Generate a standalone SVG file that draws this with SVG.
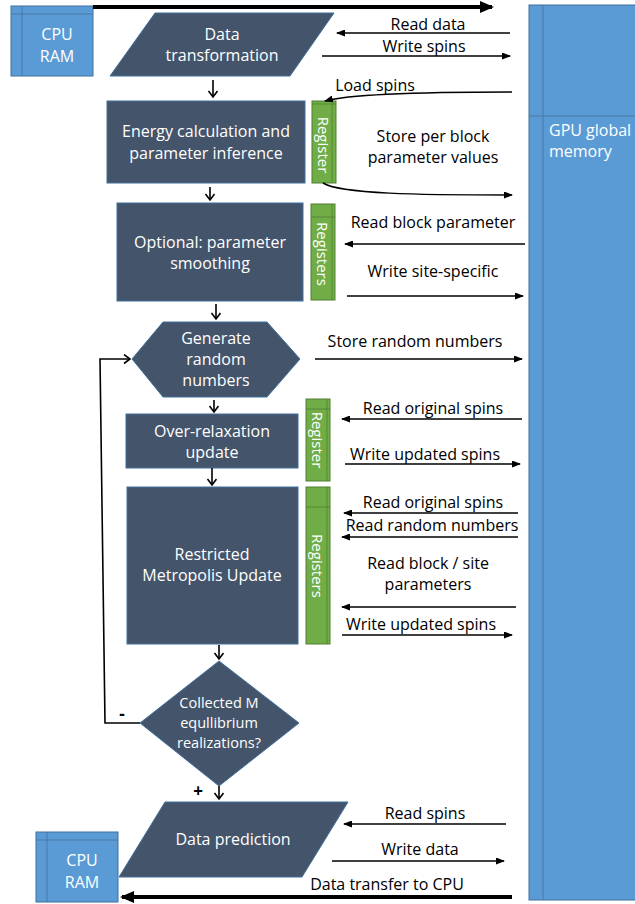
<svg xmlns="http://www.w3.org/2000/svg" width="635" height="904" viewBox="0 0 635 904">
<style>
.node{fill:#44546A;stroke:#41719C;stroke-width:1}
.mem{fill:#5B9BD5;stroke:#41719C;stroke-width:1}
.reg{fill:#70AD47;stroke:#507E32;stroke-width:1}
.div{stroke-width:0.8;fill:none}
.memdiv{stroke:#41719C}
.regdiv{stroke:#507E32}
.wt{fill:#FFFFFF;font-family:"Open Sans","Liberation Sans",Arial,sans-serif;font-size:16px;text-anchor:middle}
.dt{fill:#FFFFFF;font-family:"Open Sans","Liberation Sans",Arial,sans-serif;font-size:14.5px;text-anchor:middle}
.rt{fill:#FFFFFF;font-family:"Open Sans","Liberation Sans",Arial,sans-serif;font-size:15px;text-anchor:middle;dominant-baseline:central}
.bt{fill:#000000;font-family:"Open Sans","Liberation Sans",Arial,sans-serif;font-size:16px;text-anchor:middle}
.la{stroke:#000;stroke-width:1.5;fill:none;marker-end:url(#thin)}
.va{stroke:#000;stroke-width:1.6;fill:none;marker-end:url(#open)}
.ta{stroke:#000;stroke-width:4;fill:none;marker-end:url(#thick)}
</style>
<defs>
<marker id="thin" markerUnits="userSpaceOnUse" markerWidth="9" markerHeight="7" refX="8" refY="3.5" orient="auto"><path d="M0,0 L9,3.5 L0,7 z" fill="#000"/></marker>
<marker id="open" markerUnits="userSpaceOnUse" markerWidth="12" markerHeight="12" refX="7" refY="5" orient="auto"><path d="M1,0.5 L7,5 L1,9.5" fill="none" stroke="#000" stroke-width="1.6"/></marker>
<marker id="thick" markerUnits="userSpaceOnUse" markerWidth="14" markerHeight="12" refX="12" refY="6" orient="auto"><path d="M0,0 L14,6 L0,12 z" fill="#000"/></marker>
</defs>

<g id="gpu-memory">
<rect class="mem" x="529" y="5" width="110" height="895"/>
<line class="div memdiv" x1="543" y1="5" x2="543" y2="900"/>
<line class="div memdiv" x1="529" y1="116" x2="635" y2="116"/>
<text class="wt" x="549" y="136" style="text-anchor:start">GPU global</text>
<text class="wt" x="549" y="157" style="text-anchor:start">memory</text>
</g>

<g id="cpu-ram-top">
<rect class="mem" x="11" y="6" width="82" height="70"/>
<line class="div memdiv" x1="22" y1="6" x2="22" y2="76"/>
<line class="div memdiv" x1="11" y1="14" x2="93" y2="14"/>
<text class="wt" x="57" y="40">CPU</text>
<text class="wt" x="57" y="62">RAM</text>
</g>

<g id="data-transformation">
<polygon class="node" points="155,13 334,13 290,76 110,76"/>
<text class="wt" x="222" y="40">Data</text>
<text class="wt" x="222" y="61">transformation</text>
</g>

<g id="energy">
<rect class="node" x="107" y="101" width="198" height="82"/>
<text class="wt" x="206" y="137">Energy calculation and</text>
<text class="wt" x="206" y="159">parameter inference</text>
</g>
<g id="register-1">
<rect class="reg" x="312" y="101" width="24" height="82"/>
<line class="div regdiv" x1="332" y1="101" x2="332" y2="183"/>
<line class="div regdiv" x1="312" y1="104" x2="336" y2="104"/>
<text class="rt" transform="rotate(90 324 145)" x="324" y="145">Register</text>
</g>

<g id="smoothing">
<rect class="node" x="117" y="203" width="186" height="98"/>
<text class="wt" x="210" y="248">Optional: parameter</text>
<text class="wt" x="210" y="269">smoothing</text>
</g>
<g id="register-2">
<rect class="reg" x="311" y="204" width="24" height="96"/>
<line class="div regdiv" x1="332" y1="204" x2="332" y2="300"/>
<line class="div regdiv" x1="311" y1="217" x2="335" y2="217"/>
<text class="rt" transform="rotate(90 323 254)" x="323" y="254">Registers</text>
</g>

<g id="generate">
<polygon class="node" points="132,359 163,322 267,322 300,359 267,397 163,397"/>
<text class="wt" x="216" y="344">Generate</text>
<text class="wt" x="216" y="365">random</text>
<text class="wt" x="216" y="386">numbers</text>
</g>

<g id="over-relaxation">
<rect class="node" x="126" y="414" width="172" height="54"/>
<text class="wt" x="212" y="437">Over-relaxation</text>
<text class="wt" x="212" y="458">update</text>
</g>
<g id="register-3">
<rect class="reg" x="306" y="399" width="24" height="82"/>
<line class="div regdiv" x1="327" y1="399" x2="327" y2="481"/>
<line class="div regdiv" x1="306" y1="409" x2="330" y2="409"/>
<text class="rt" transform="rotate(90 318 440)" x="318" y="440">Register</text>
</g>

<g id="metropolis">
<rect class="node" x="127" y="487" width="171" height="157"/>
<text class="wt" x="212" y="560">Restricted</text>
<text class="wt" x="212" y="581">Metropolis Update</text>
</g>
<g id="register-4">
<rect class="reg" x="306" y="487" width="24" height="157"/>
<line class="div regdiv" x1="327" y1="487" x2="327" y2="644"/>
<line class="div regdiv" x1="306" y1="507" x2="330" y2="507"/>
<text class="rt" transform="rotate(90 318 566)" x="318" y="566">Registers</text>
</g>

<g id="decision">
<polygon class="node" points="219,661 299,723 219,786 140,723"/>
<text class="dt" x="219" y="708">Collected M</text>
<text class="dt" x="219" y="728">equllibrium</text>
<text class="dt" x="219" y="748">realizations?</text>
</g>

<g id="data-prediction">
<polygon class="node" points="165,802 348,802 302,877 119,877"/>
<text class="wt" x="233" y="845">Data prediction</text>
</g>

<g id="cpu-ram-bottom">
<rect class="mem" x="36" y="832" width="82" height="70"/>
<line class="div memdiv" x1="47" y1="832" x2="47" y2="902"/>
<line class="div memdiv" x1="36" y1="840" x2="118" y2="840"/>
<text class="wt" x="82" y="866">CPU</text>
<text class="wt" x="82" y="888">RAM</text>
</g>

<g id="connectors">
<line class="ta" x1="93" y1="7" x2="492" y2="7"/>
<line class="ta" x1="512" y1="897" x2="122" y2="897"/>
<line class="va" x1="213" y1="80" x2="213" y2="97"/>
<line class="va" x1="210" y1="187" x2="210" y2="200"/>
<line class="va" x1="216" y1="304" x2="216" y2="319"/>
<line class="va" x1="214" y1="400" x2="214" y2="412"/>
<line class="va" x1="212" y1="468" x2="212" y2="485"/>
<line class="va" x1="219" y1="645" x2="219" y2="659"/>
<line class="va" x1="219" y1="786" x2="219" y2="799"/>
<polyline class="va" points="140,723 105,723 100,359 130,359"/>

<line class="la" x1="510" y1="33" x2="337" y2="33"/>
<line class="la" x1="322" y1="56" x2="510" y2="56"/>
<path class="la" d="M512,92 C420,92 350,94 325,101"/>
<path class="la" d="M323,183 C340,194 420,195 512,195"/>
<line class="la" x1="525" y1="244" x2="345" y2="244"/>
<line class="la" x1="347" y1="296" x2="523" y2="296"/>
<line class="la" x1="315" y1="359" x2="522" y2="359"/>
<line class="la" x1="522" y1="419" x2="342" y2="419"/>
<line class="la" x1="345" y1="464" x2="520" y2="464"/>
<line class="la" x1="518" y1="513" x2="344" y2="513"/>
<line class="la" x1="518" y1="537" x2="342" y2="537"/>
<line class="la" x1="516" y1="607" x2="342" y2="607"/>
<line class="la" x1="342" y1="635" x2="512" y2="635"/>
<line class="la" x1="506" y1="824" x2="344" y2="824"/>
<line class="la" x1="332" y1="861" x2="504" y2="861"/>
</g>

<g id="labels">
<text class="bt" x="428" y="30">Read data</text>
<text class="bt" x="424" y="52">Write spins</text>
<text class="bt" x="375" y="91">Load spins</text>
<text class="bt" x="433" y="142">Store per block</text>
<text class="bt" x="433" y="163">parameter values</text>
<text class="bt" x="433" y="228">Read block parameter</text>
<text class="bt" x="433" y="277">Write site-specific</text>
<text class="bt" x="415" y="347">Store random numbers</text>
<text class="bt" x="433" y="414">Read original spins</text>
<text class="bt" x="425" y="460">Write updated spins</text>
<text class="bt" x="433" y="508">Read original spins</text>
<text class="bt" x="432" y="531">Read random numbers</text>
<text class="bt" x="428" y="569">Read block / site</text>
<text class="bt" x="428" y="590">parameters</text>
<text class="bt" x="421" y="630">Write updated spins</text>
<text class="bt" x="425" y="819">Read spins</text>
<text class="bt" x="420" y="855">Write data</text>
<text class="bt" x="387" y="890">Data transfer to CPU</text>
<text class="bt" x="122" y="720" style="font-weight:bold;font-size:17px">-</text>
<text class="bt" x="198" y="797" style="font-weight:bold;font-size:17px">+</text>
</g>
</svg>
